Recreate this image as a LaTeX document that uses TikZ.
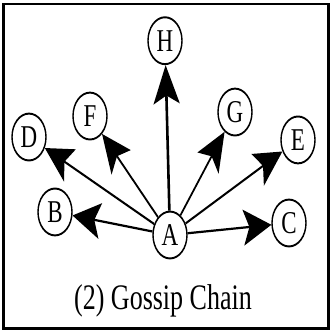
\documentclass[tikz,border=0pt]{standalone}
\usepackage{fontspec}
\setmainfont{Liberation Serif}
\usetikzlibrary{arrows.meta}
\begin{document}
\begin{tikzpicture}[x=1pt,y=-1pt,
  peer/.style={circle,draw,line width=1.4pt,minimum size=34pt,inner sep=0pt,
    font=\fontsize{23}{25}\selectfont},
  gossip/.style={line width=1.6pt,-{Stealth[length=28pt,width=26pt,inset=6pt]}},
  caption/.style={font=\fontsize{26}{28}\selectfont}]
\useasboundingbox (0,0) rectangle (331,332);
% outer frame
\draw[line width=2.7pt] (3.5,4) rectangle (328.5,328.5);
% the diagram is drawn upright, then stretched vertically
\begin{scope}[transform canvas={yscale=1.38}]
  \node[peer] (A) at (170,170.3) {A};
  \node[peer] (B) at (55,153.6) {B};
  \node[peer] (C) at (289,161.6) {C};
  \node[peer] (D) at (29,99.3) {D};
  \node[peer] (E) at (298,101.4) {E};
  \node[peer] (F) at (90,84.1) {F};
  \node[peer] (G) at (235,81.2) {G};
  \node[peer] (H) at (165,29.5) {H};
  \draw[gossip] (A) -- (B);
  \draw[gossip] (A) -- (C);
  \draw[gossip] (A) -- (D);
  \draw[gossip] (A) -- (E);
  \draw[gossip] (A) -- (F);
  \draw[gossip] (A) -- (G);
  \draw[gossip,line width=2.6pt] (A) -- (H);
  \node[caption] (cap) at (163,218.1) {(2) Gossip Chain};
\end{scope}
\end{tikzpicture}
\end{document}
